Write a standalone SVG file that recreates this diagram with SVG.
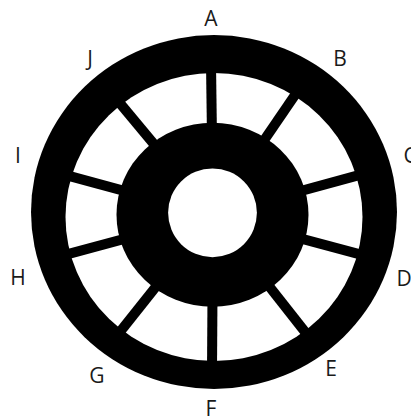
<svg xmlns="http://www.w3.org/2000/svg" width="411" height="418" viewBox="0 0 411 418">
<style>
.lbl{font-family:"Open Sans","Liberation Sans",sans-serif;font-size:21px;fill:#1a1a1a;text-anchor:middle}
.spoke{stroke:#000;stroke-width:10;stroke-linecap:butt}
</style>
<rect width="411" height="418" fill="#fff"/>
<g id="outer-ring">
<ellipse cx="214" cy="212" rx="183" ry="177" fill="#000"/>
<ellipse cx="214" cy="217" rx="148.5" ry="144" fill="#fff"/>
</g>
<g id="spokes">
<line class="spoke" x1="213" y1="215" x2="211" y2="63"/>
<line class="spoke" x1="213" y1="215" x2="298.6" y2="89.7"/>
<line class="spoke" x1="213" y1="215" x2="361.7" y2="174.4"/>
<line class="spoke" x1="213" y1="215" x2="364.7" y2="255.6"/>
<line class="spoke" x1="213" y1="215" x2="308.2" y2="335.9"/>
<line class="spoke" x1="213" y1="215" x2="212" y2="371"/>
<line class="spoke" x1="213" y1="215" x2="116.8" y2="335.8"/>
<line class="spoke" x1="213" y1="215" x2="62.3" y2="255.6"/>
<line class="spoke" x1="213" y1="215" x2="63.3" y2="174.4"/>
<line class="spoke" x1="213" y1="215" x2="116.6" y2="99.3"/>
</g>
<g id="hub">
<ellipse cx="212.5" cy="214.7" rx="96" ry="92" fill="#000"/>
<circle cx="212.5" cy="212.8" r="44.4" fill="#fff"/>
</g>
<g id="labels">
<text class="lbl" x="211" y="26">A</text>
<text class="lbl" x="340" y="66">B</text>
<text class="lbl" x="410" y="163">C</text>
<text class="lbl" x="404" y="286">D</text>
<text class="lbl" x="331" y="376">E</text>
<text class="lbl" x="211" y="416">F</text>
<text class="lbl" x="97" y="383">G</text>
<text class="lbl" x="18" y="285">H</text>
<text class="lbl" x="18" y="163">I</text>
<text class="lbl" x="90" y="66">J</text>
</g>
</svg>
